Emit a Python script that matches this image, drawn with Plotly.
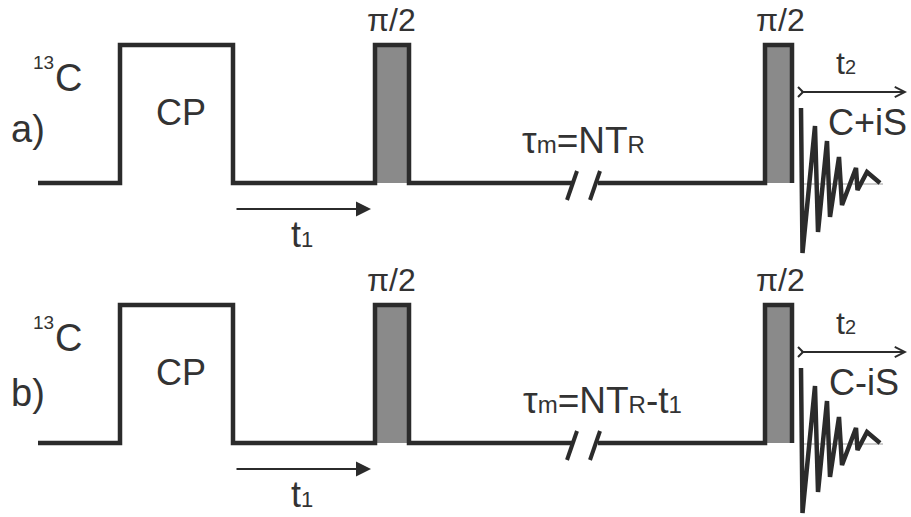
import plotly.graph_objects as go

# ---- data (diagram units: x = time axis, y = amplitude axis, reversed) ----
panel_offsets = [0, 260]
panel_names = ["a)", "b)"]
mix_labels = ["τ<span style='font-size:24px'>m</span>=NT<span style='font-size:24px'>R</span>",
              "τ<span style='font-size:24px'>m</span>=NT<span style='font-size:24px'>R</span>-t<span style='font-size:24px'>1</span>"]
detect_labels = ["C+iS", "C-iS"]
mix_label_x = [583, 602]

base_level = 183
high_level = 45
# sequence part 1: CP block and first pi/2 pulse
seq1_x = [38, 120, 120, 233, 233, 375, 375, 409, 409, 572]
seq1_lvl = [0, 0, 1, 1, 0, 0, 1, 1, 0, 0]
# sequence part 2: after the break, second pi/2 pulse
seq2_x = [598, 765, 765, 792, 792]
seq2_lvl = [0, 0, 1, 1, 0]
pulse_spans = [(375, 409), (765, 792)]
# break marks (//)
break_x = [(567, 577), (590, 600)]
break_y = (200, 171)
# FID trace
fid_x = [801, 802.5, 815, 818, 827, 830, 839, 842, 856, 857.5, 867, 880]
fid_y = [108, 253, 126, 232, 141, 217, 157, 205, 168, 190, 172, 183]
fid_base_x = [801, 883]

dark = "#2b2b2b"
gray = "#8a8a8a"
txt = "#333333"
FONT = "Liberation Sans, Arial, sans-serif"

fig = go.Figure()

def lvl2y(l, off):
    return (high_level if l else base_level) + off

for p, off in enumerate(panel_offsets):
    # pulse fills
    for (x0, x1) in pulse_spans:
        fig.add_trace(go.Scatter(x=[x0, x1, x1, x0, x0],
                                 y=[high_level + off, high_level + off, base_level + off, base_level + off, high_level + off],
                                 mode="lines", fill="toself", fillcolor=gray,
                                 line=dict(width=0, color=gray), hoverinfo="skip", showlegend=False))
    fig.add_trace(go.Scatter(x=seq1_x, y=[lvl2y(l, off) for l in seq1_lvl], mode="lines",
                             line=dict(color=dark, width=4.5), showlegend=False, hoverinfo="skip"))
    fig.add_trace(go.Scatter(x=seq2_x, y=[lvl2y(l, off) for l in seq2_lvl], mode="lines",
                             line=dict(color=dark, width=4.5), showlegend=False, hoverinfo="skip"))
    for (xb, xt) in break_x:
        fig.add_trace(go.Scatter(x=[xb, xt], y=[break_y[0] + off, break_y[1] + off], mode="lines",
                                 line=dict(color=dark, width=4), showlegend=False, hoverinfo="skip"))
    # FID
    fig.add_trace(go.Scatter(x=fid_base_x, y=[base_level + 1 + off] * 2, mode="lines",
                             line=dict(color="#9a9a9a", width=1), showlegend=False, hoverinfo="skip"))
    fig.add_trace(go.Scatter(x=fid_x, y=[v + off for v in fid_y], mode="lines",
                             line=dict(color=dark, width=4.5), showlegend=False, hoverinfo="skip"))
    # t2 arrow with tail mark
    fig.add_trace(go.Scatter(x=[798, 803, 798], y=[87 + off, 92 + off, 97 + off], mode="lines",
                             line=dict(color=dark, width=2), showlegend=False, hoverinfo="skip"))
    fig.add_annotation(x=907, y=92 + off, ax=800, ay=92 + off, axref="x", ayref="y",
                       xref="x", yref="y", text="", showarrow=True, arrowhead=5,
                       arrowsize=0.9, arrowwidth=2.2, arrowcolor=dark, standoff=0)
    # t1 arrow
    fig.add_annotation(x=371, y=209 + off, ax=235, ay=209 + off, axref="x", ayref="y",
                       xref="x", yref="y", text="", showarrow=True, arrowhead=2,
                       arrowsize=1.5, arrowwidth=2, arrowcolor=dark, standoff=0)

    def label(x, y, s, size, xanchor="center", yanchor="middle"):
        fig.add_annotation(x=x, y=y + off, text=s, showarrow=False, xanchor=xanchor, yanchor=yanchor,
                           font=dict(family=FONT, size=size, color=txt))

    label(43, 62, "13", 19)
    label(68, 78, "C", 38)
    label(28, 129 if p == 0 else 133, panel_names[p], 38)
    label(181, 112, "CP", 36)
    label(391, 20, "π/2", 32)
    label(780, 20, "π/2", 32)
    label(302, 257, "t<span style='font-size:22px'>1</span>", 36, yanchor="bottom")
    label(846, 63, "t<span style='font-size:20px'>2</span>", 32)
    label(867 if p == 0 else 864, 122, detect_labels[p], 36)
    label(mix_label_x[p], 140, mix_labels[p], 37)

fig.update_layout(width=911, height=517, margin=dict(l=0, r=0, t=0, b=0),
                  paper_bgcolor="white", plot_bgcolor="white", showlegend=False,
                  xaxis=dict(range=[0, 911], visible=False, fixedrange=True),
                  yaxis=dict(range=[517, 0], visible=False, fixedrange=True))

fig.write_html("out.html")
